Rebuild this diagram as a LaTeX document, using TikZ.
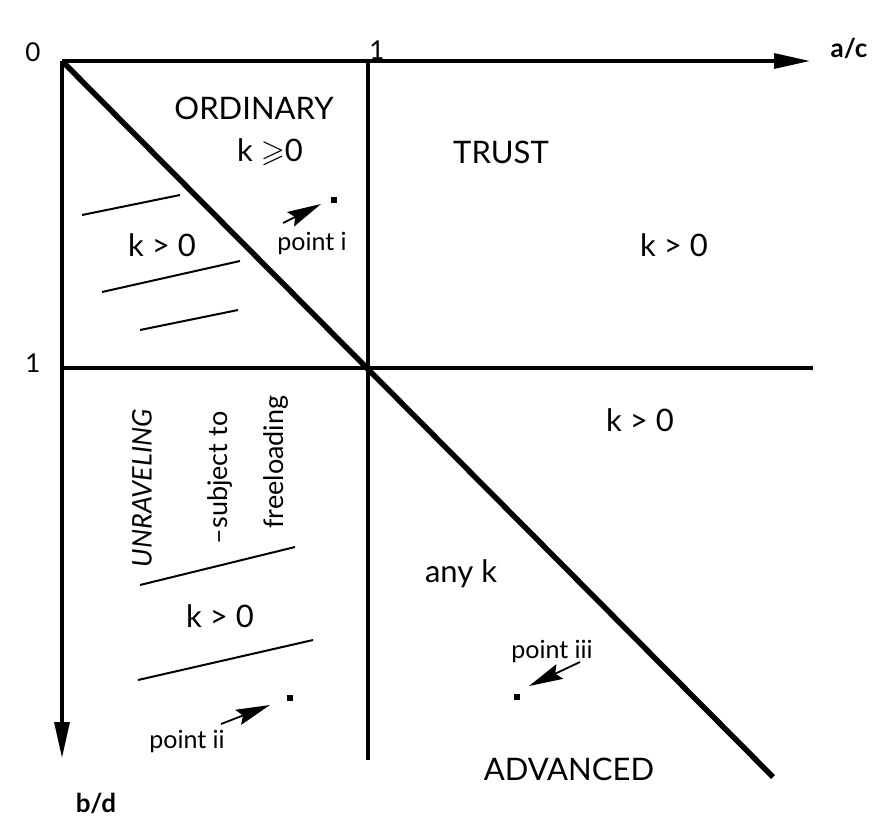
\documentclass[tikz,border=0pt]{standalone}
\usepackage{fontspec}
\usepackage{amssymb}
\setmainfont{Lato}
\usetikzlibrary{arrows.meta}

\tikzset{%
  axis/.style={
    line width=3.2pt,
    -{Triangle[length=36pt,width=15pt]}
  },
  border/.style={line width=3.2pt},
  diagonal/.style={line width=5.5pt},
  hatch/.style={line width=2pt},
  pointer/.style={
    line width=1.8pt,
    -{Stealth[length=34pt,width=16pt,inset=5pt]}
  },
  marker/.style={
    fill,
    inner sep=0pt,
    minimum size=6pt
  },
  region/.style={font=\fontsize{31}{36}\selectfont},
  side/.style={font=\fontsize{27}{32}\selectfont, rotate=90},
  small/.style={font=\fontsize{25}{30}\selectfont},
  tick/.style={font=\fontsize{26}{30}\selectfont},
  axis label/.style={font=\fontsize{26}{30}\selectfont\bfseries},
}

\begin{document}
\begin{tikzpicture}[x=1pt,y=-1pt]
\useasboundingbox (0,0) rectangle (890,839);
% axes and grid
\coordinate (O) at (62,61);
\coordinate (X end) at (810,61);
\coordinate (Y end) at (62,758);
\coordinate (top one) at (368,61);
\coordinate (bottom one) at (368,760);
\coordinate (left one) at (62,368);
\coordinate (right one) at (813,368);
\coordinate (diag end) at (773,777);
\draw[axis] (O) -- (X end);
\draw[axis] (O) -- (Y end);
\draw[border] (top one) -- (bottom one);
\draw[border] (left one) -- (right one);
\draw[diagonal] (O) -- (diag end);
\node[tick] (zero) at (33,52) {0};
\node[tick] (one x) at (377,50) {1};
\node[tick] (one y) at (33,363) {1};
\node[axis label] (ac) at (849,48) {a/c};
\node[axis label] (bd) at (96,803) {b/d};
% hatching
\draw[hatch] (82,215) -- (180,195);
\draw[hatch] (102,292) -- (240,261);
\draw[hatch] (140,330) -- (238,310);
\draw[hatch] (140,585) -- (295,547);
\draw[hatch] (138,680) -- (313,640);
% regions
\node[region] (ordinary) at (254,108) {ORDINARY};
\node[region] (k ordinary) at (270,152) {k $\geqslant$0};
\node[region] (trust) at (501,152) {TRUST};
\node[region] (k left) at (162,245) {k > 0};
\node[region] (k trust) at (674,245) {k > 0};
\node[region] (k right) at (640,420) {k > 0};
\node[region] (any k) at (461,574) {any k};
\node[region] (advanced) at (569,769) {ADVANCED};
\node[region] (k unravel) at (220,616) {k > 0};
\node[side] (unravel) at (142,488) {\itshape UNRAVELING};
\node[side] (subject) at (220,478) {--subject to};
\node[side] (freeload) at (276,462) {freeloading};
% points
\node[marker] (pi) at (334,200) {};
\node[marker] (pii) at (290,698) {};
\node[marker] (piii) at (517,697) {};
\node[small] (label i) at (312,244) {point i};
\node[small] (label ii) at (187,742) {point ii};
\node[small] (label iii) at (552,652) {point iii};
\coordinate (tail i) at (283,223);
\coordinate (tip i) at (321,204);
\coordinate (tail ii) at (221,724);
\coordinate (tip ii) at (270,705);
\coordinate (tail iii) at (580,662);
\coordinate (tip iii) at (529,686);
\draw[pointer] (tail i) -- (tip i);
\draw[pointer] (tail ii) -- (tip ii);
\draw[pointer] (tail iii) -- (tip iii);
\end{tikzpicture}
\end{document}
